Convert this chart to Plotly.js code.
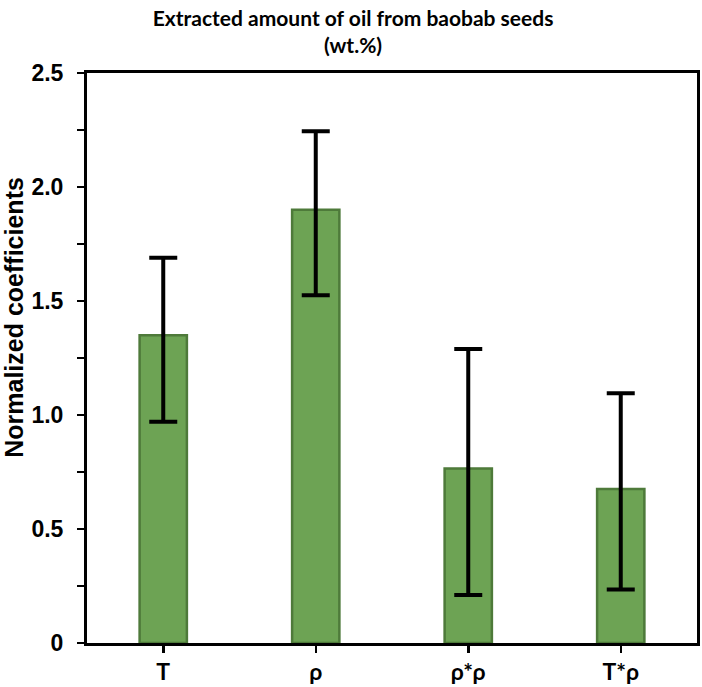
<!DOCTYPE html>
<html>
<head>
<meta charset="utf-8">
<script src="https://cdn.plot.ly/plotly-3.0.1.min.js"></script>
<style>html,body{margin:0;padding:0;background:#fff;}#chart{width:702px;height:687px;}</style>
</head>
<body>
<div id="chart"></div>
<script>
const categories = ["T", "ρ", "ρ*ρ", "T*ρ"];
const coefficients = [1.35, 1.90, 0.765, 0.675];
const errorPlus = [0.34, 0.345, 0.525, 0.42];
const errorMinus = [0.38, 0.375, 0.555, 0.44];
const yTickVals = [0, 0.25, 0.5, 0.75, 1.0, 1.25, 1.5, 1.75, 2.0, 2.25, 2.5];
const yTickText = ["0", "", "0.5", "", "1.0", "", "1.5", "", "2.0", "", "2.5"];

const trace = {
  type: "bar",
  x: categories,
  y: coefficients,
  width: 0.31,
  marker: { color: "#6da354", line: { color: "#4e7a3a", width: 2.5 } },
  error_y: {
    type: "data",
    symmetric: false,
    array: errorPlus,
    arrayminus: errorMinus,
    color: "#000000",
    thickness: 4,
    width: 14
  },
  hoverinfo: "none"
};

const layout = {
  width: 702,
  height: 687,
  margin: { l: 87, r: 5, t: 73, b: 44 },
  paper_bgcolor: "#ffffff",
  plot_bgcolor: "#ffffff",
  showlegend: false,
  title: {
    text: "<b>Extracted amount of oil from baobab seeds</b><br><b>(wt.%)</b>",
    font: { family: "Lato, 'Open Sans', sans-serif", size: 21, color: "#000" },
    x: 0.503, xref: "container", xanchor: "center",
    y: 0.962, yref: "container", yanchor: "middle",
    automargin: false
  },
  xaxis: {
    type: "category",
    range: [-0.5, 3.5],
    showline: true, linecolor: "#000", linewidth: 3, mirror: true,
    ticks: "outside", ticklen: 7, tickwidth: 2.5, tickcolor: "#000",
    showgrid: false, zeroline: false,
    tickfont: { family: "Lato, 'Open Sans', sans-serif", size: 23, color: "#000", weight: "bold" },
    ticklabelstandoff: -1
  },
  yaxis: {
    range: [0, 2.5],
    tickmode: "array",
    tickvals: yTickVals,
    ticktext: yTickText,
    showline: true, linecolor: "#000", linewidth: 3, mirror: true,
    ticks: "outside", ticklen: 7, tickwidth: 2.5, tickcolor: "#000",
    showgrid: false, zeroline: false,
    tickfont: { family: "'Liberation Sans', Arial, sans-serif", size: 23, color: "#000", weight: "bold" },
    ticklabelstandoff: 9
  },
  annotations: [{
    text: "<b>Normalized coefficients</b>",
    textangle: -90,
    xref: "paper", x: -0.12, xanchor: "center",
    yref: "paper", y: 0.572, yanchor: "middle",
    showarrow: false,
    font: { family: "'Liberation Sans', Arial, sans-serif", size: 25, color: "#000" }
  }],
  bargap: 0.69
};

Plotly.newPlot("chart", [trace], layout, { staticPlot: true, displayModeBar: false });
</script>
</body>
</html>
